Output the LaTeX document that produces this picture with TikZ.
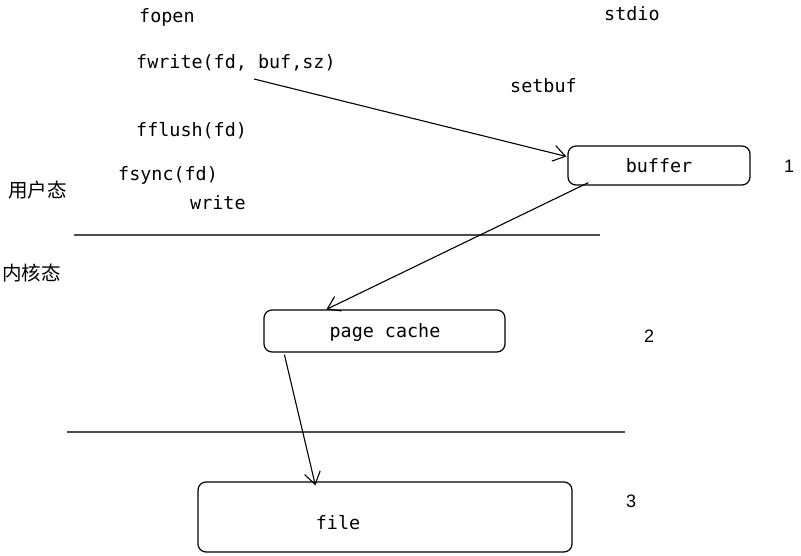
\documentclass[tikz,border=0pt]{standalone}
\usepackage{fontspec}
\setmonofont{DejaVu Sans Mono}
\setsansfont{Liberation Sans}
\newfontfamily\cjk{Noto Sans CJK SC}
\usetikzlibrary{arrows.meta}
\begin{document}
\begin{tikzpicture}[x=1pt,y=-1pt,
  code/.style={font=\ttfamily\fontsize{18.4}{20}\selectfont, inner sep=0pt, anchor=west},
  num/.style={font=\sffamily\fontsize{18}{20}\selectfont, inner sep=0pt},
  zh/.style={font=\cjk\fontsize{19.5}{22}\selectfont, inner sep=0pt, anchor=west},
  box/.style={draw=black, line width=1.2pt, rounded corners=8pt},
  conn/.style={line width=1.1pt, -{Straight Barb[length=12pt,width=16pt,line width=1.1pt]}},
  sep/.style={line width=2pt, draw=black!70}]
\useasboundingbox (0,0) rectangle (801,556);
\node[code] (fopen) at (139,17) {fopen};
\node[code] (stdio) at (604,14) {stdio};
\node[code] (fwrite) at (136,63) {fwrite(fd, buf,sz)};
\node[code] (setbuf) at (510,86) {setbuf};
\node[code] (fflush) at (136,131) {fflush(fd)};
\node[code] (fsync) at (118,175) {fsync(fd)};
\node[code] (write) at (190,203) {write};
\node[zh] (user) at (8,190) {用户态};
\node[zh] (kernel) at (2,273) {内核态};
\coordinate (l1a) at (74,235);
\coordinate (l1b) at (600,235);
\draw[sep] (l1a) -- (l1b);
\coordinate (l2a) at (67,432);
\coordinate (l2b) at (625,432);
\draw[sep] (l2a) -- (l2b);
\node[box, minimum width=182pt, minimum height=39pt] (buffer) at (659,165.5) {};
\node[code, anchor=center] (buft) at (659,166) {buffer};
\node[num] (n1) at (789,166) {1};
\node[box, minimum width=241pt, minimum height=42pt] (pc) at (384.5,331) {};
\node[code, anchor=center] (pct) at (385,332) {page cache};
\node[num] (n2) at (649,336) {2};
\node[box, minimum width=374pt, minimum height=70pt] (file) at (385,517) {};
\node[code, anchor=center] (filet) at (338,523) {file};
\node[num] (n3) at (631,501) {3};
\coordinate (s1) at (254,79);
\draw[conn] (s1) -- ([xshift=-1pt,yshift=9pt]buffer.west);
\draw[conn] ([xshift=21pt,yshift=3pt]buffer.south west) -- ([xshift=63pt]pc.north west);
\draw[conn] ([xshift=21pt,yshift=-2pt]pc.south west) -- ([xshift=118pt,yshift=-4pt]file.north west);
\end{tikzpicture}
\end{document}
